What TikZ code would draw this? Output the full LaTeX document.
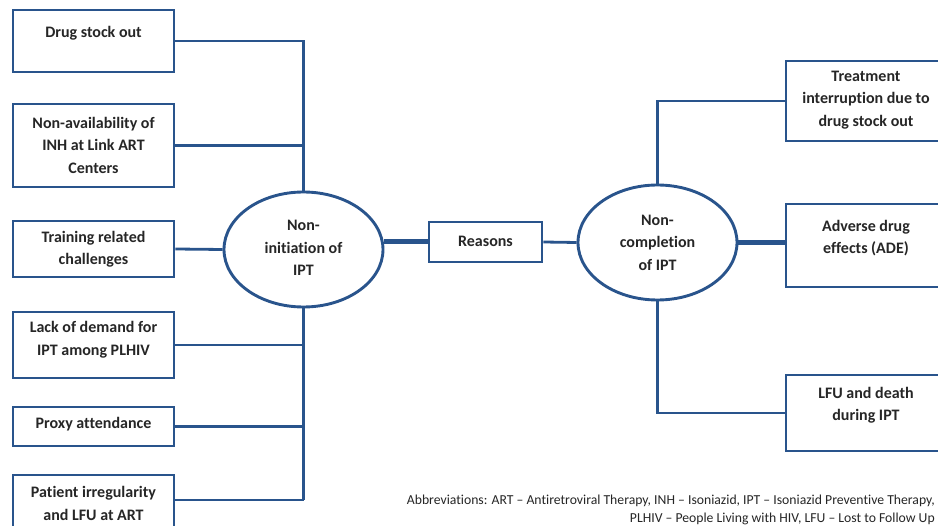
\documentclass[tikz,border=0pt]{standalone}
\usepackage{fontspec}
\setmainfont{Carlito}[Ligatures={NoCommon}]
\usetikzlibrary{shapes.geometric}
\definecolor{frame}{RGB}{41,84,140}
\definecolor{ink}{RGB}{38,38,38}
\begin{document}
\begin{tikzpicture}[x=1pt,y=-1pt,
  box/.style={draw=frame, line width=2.9pt, minimum width=161pt, inner sep=0pt},
  ell/.style={draw=frame, line width=2.9pt, ellipse, minimum width=159pt, minimum height=115pt, inner sep=0pt},
  txt/.style={font=\bfseries\fontsize{16}{22.5}\selectfont, text=ink, align=center, inner sep=0pt},
  wire/.style={draw=frame, line width=2.8pt},
  heavy/.style={draw=frame, line width=5pt}]
\clip (0,0) rectangle (938,526);
\fill[white] (0,0) rectangle (938,526);
% left boxes
\node[box, minimum height=62pt] (b1) at (93.5,41) {};
\node[txt] (t1) at (93.5,33) {Drug stock out};
\node[box, minimum height=83pt] (b2) at (93.5,145.5) {};
\node[txt] (t2) at (93.5,145) {Non-availability of\\INH at Link ART\\Centers};
\node[box, minimum height=56pt] (b3) at (93.5,249) {};
\node[txt] (t3) at (93.5,249) {Training related\\challenges};
\node[box, minimum height=66pt] (b4) at (93.5,345) {};
\node[txt] (t4) at (93.5,339.5) {Lack of demand for\\IPT among PLHIV};
\node[box, minimum height=39pt] (b5) at (93.5,426.5) {};
\node[txt] (t5) at (93.5,424) {Proxy attendance};
\node[box, minimum height=70pt] (b6) at (93.5,510) {};
\node[txt] (t6) at (93.5,503.5) {Patient irregularity\\and LFU at ART};
% centre
\node[ell] (eL) at (303.5,249.5) {};
\node[txt] (tL) at (303.5,248) {Non-\\initiation of\\IPT};
\node[box, minimum width=113pt, minimum height=40pt] (rs) at (485.5,242) {};
\node[txt] (trs) at (485.5,241) {Reasons};
\node[ell] (eR) at (657.5,242.5) {};
\node[txt] (tR) at (657.5,242.5) {Non-\\completion\\of IPT};
% right boxes
\node[box, minimum width=160pt, minimum height=80pt] (r1) at (866,101) {};
\node[txt] (tr1) at (866,100) {Treatment\\interruption due to\\drug stock out};
\node[box, minimum width=160pt, minimum height=83pt] (r2) at (866,245.5) {};
\node[txt] (tr2) at (866,238) {Adverse drug\\effects (ADE)};
\node[box, minimum width=160pt, minimum height=76pt] (r3) at (866,413) {};
\node[txt] (tr3) at (866,405) {LFU and death\\during IPT};
% connectors left
\coordinate (c6) at (303.5,500);
\draw[wire] (b1.east) -| (eL.north);
\draw[wire] (b2.east) -- (b2.east -| eL.north);
\draw[wire] (b3.east) -- (eL.west);
\draw[wire] (eL.south) -- (c6);
\draw[wire] (b4.east) -- (b4.east -| eL.south);
\draw[wire] (b5.east) -- (b5.east -| eL.south);
\draw[wire] (b6.east |- c6) -- (c6);
% middle
\draw[heavy] (rs.west) -- (rs.west -| eL.east);
\draw[wire] (rs.east) -- (eR.west);
% right
\draw[wire] (eR.north) |- (r1.west);
\draw[heavy] (eR.east) -- (eR.east -| r2.west);
\draw[wire] (eR.south) |- (r3.west);
% abbreviations
\node[font=\fontsize{13.7}{18}\selectfont, text=ink, align=right, anchor=east, inner sep=0pt] (abbr) at (935,510)
  {Abbreviations: ART -- Antiretroviral Therapy, INH -- Isoniazid, IPT -- Isoniazid Preventive Therapy,\\
   PLHIV -- People Living with HIV, LFU -- Lost to Follow Up};
\end{tikzpicture}
\end{document}
